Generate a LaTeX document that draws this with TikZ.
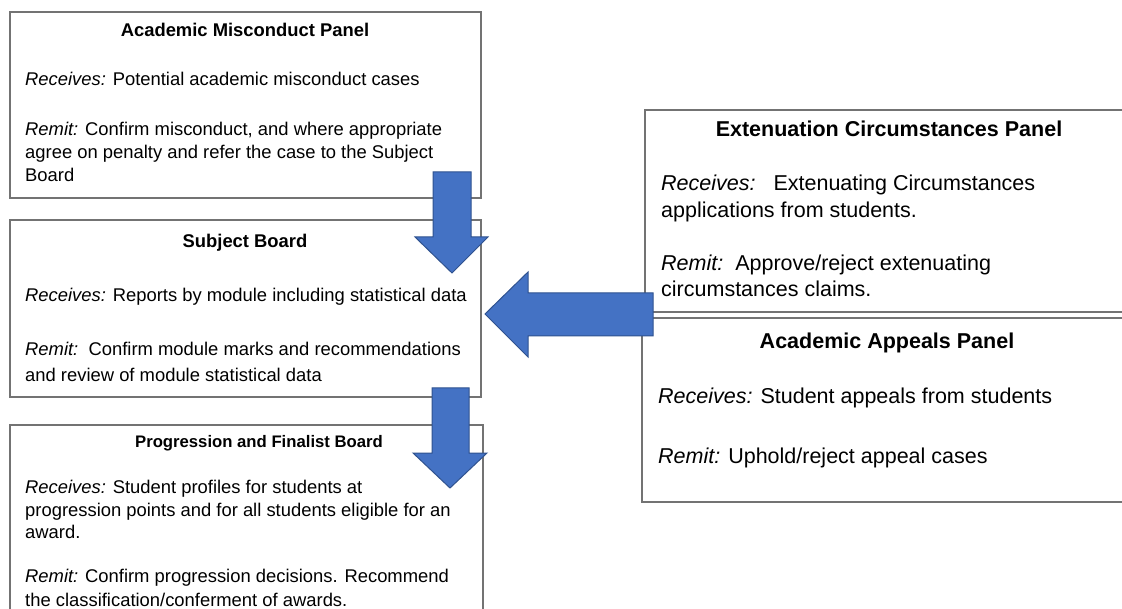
\documentclass[tikz,border=0pt]{standalone}
\usepackage{fontspec}
\setmainfont{Liberation Sans}
\usetikzlibrary{shadows}
\definecolor{arrowblue}{HTML}{4472C4}
\definecolor{arrowedge}{HTML}{2F528F}
\begin{document}
\begin{tikzpicture}[x=1pt,y=-1pt,
  panel/.style={draw=black!55,line width=1.1pt,fill=white,
    drop shadow={shadow xshift=1.2pt,shadow yshift=-1.2pt,opacity=0.35,fill=black}},
  ltxt/.style={anchor=base west,inner sep=0pt,font=\fontsize{18.4}{22}\selectfont},
  ltitle/.style={anchor=base,inner sep=0pt,font=\fontsize{18.4}{22}\selectfont\bfseries},
  rtxt/.style={anchor=base west,inner sep=0pt,font=\fontsize{21.5}{26}\selectfont},
  rtitle/.style={anchor=base,inner sep=0pt,font=\fontsize{21.5}{26}\selectfont\bfseries},
  blockarrow/.style={fill=arrowblue,draw=arrowedge,line width=1pt,line join=miter}]
\useasboundingbox (0,0) rectangle (1122,609);
\begin{scope}
\clip (0,0) rectangle (1122,609);
% boxes
\draw[panel] (10,12) rectangle (481,198);
\draw[panel] (10,220) rectangle (481,397);
\draw[panel] (10,425) rectangle (483,640);
\draw[panel] (645,110) rectangle (1140,312);
\draw[panel] (642,318) rectangle (1140,502);
\end{scope}
% Box 1
\node[ltitle] (amp) at (245,37) {Academic Misconduct Panel};
\node[ltxt] (amp1) at (25,86) {\textit{Receives:} Potential academic misconduct cases};
\node[ltxt] (amp2) at (25,136) {\textit{Remit:} Confirm misconduct, and where appropriate};
\node[ltxt] (amp3) at (25,159) {agree on penalty and refer the case to the Subject};
\node[ltxt] (amp4) at (25,182) {Board};
% Box 2
\node[ltitle] (sb) at (245,248) {Subject Board};
\node[ltxt] (sb1) at (25,302) {\textit{Receives:} Reports by module including statistical data};
\node[ltxt] (sb2) at (25,356) {\textit{Remit:}\ \ Confirm module marks and recommendations};
\node[ltxt] (sb3) at (25,382) {and review of module statistical data};
% Box 3
\node[ltitle,font=\fontsize{16.7}{20}\selectfont\bfseries] (pfb) at (259,447) {Progression and Finalist Board};
\node[ltxt] (pfb1) at (25,493) {\textit{Receives:} Student profiles for students at};
\node[ltxt] (pfb2) at (25,516) {progression points and for all students eligible for an};
\node[ltxt] (pfb3) at (25,538) {award.};
\node[ltxt] (pfb4) at (25,582) {\textit{Remit:} Confirm progression decisions. Recommend};
\node[ltxt] (pfb5) at (25,606) {the classification/conferment of awards.};
% Box 4
\node[rtitle] (ecp) at (889,137) {Extenuation Circumstances Panel};
\node[rtxt] (ecp1) at (661,191) {\textit{Receives:}\ \ \ Extenuating Circumstances};
\node[rtxt] (ecp2) at (661,218) {applications from students.};
\node[rtxt] (ecp3) at (661,271) {\textit{Remit:}\ \ Approve/reject extenuating};
\node[rtxt] (ecp4) at (661,297) {circumstances claims.};
% Box 5
\node[rtitle] (aap) at (887,349) {Academic Appeals Panel};
\node[rtxt] (aap1) at (658,404) {\textit{Receives:} Student appeals from students};
\node[rtxt] (aap2) at (658,463) {\textit{Remit:} Uphold/reject appeal cases};
% arrows
\draw[blockarrow] (433,172) -- (471,172) -- (471,237) -- (488,237) -- (452,273)
  -- (415,237) -- (433,237) -- cycle;
\draw[blockarrow] (432,388) -- (469,388) -- (469,453) -- (487,453) -- (450,488)
  -- (413,453) -- (432,453) -- cycle;
\draw[blockarrow] (653,293) -- (653,336) -- (528,336) -- (528,357) -- (485,314)
  -- (528,272) -- (528,293) -- cycle;
\end{tikzpicture}
\end{document}
